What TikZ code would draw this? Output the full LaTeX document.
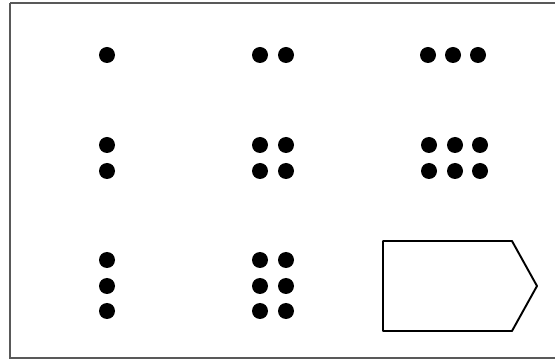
\documentclass[tikz,border=0pt]{standalone}
\usepackage{tikz}
\usetikzlibrary{calc}

\begin{document}
\begin{tikzpicture}[x=0.02cm,y=-0.02cm]
\useasboundingbox (0,0) rectangle (555,361);
\draw[black!65, line width=1.2pt] (10,3) -- (560,3);
\draw[black!65, line width=1.2pt] (10,3) -- (10,358) -- (560,358);

% row 1
\fill (107,55) circle (8);
\foreach \x in {260,286} \fill (\x,55) circle (8);
\foreach \x in {428,453,478} \fill (\x,55) circle (8);

% row 2
\foreach \y in {145,171} \fill (107,\y) circle (8);
\foreach \x in {260,286} \foreach \y in {145,171} \fill (\x,\y) circle (8);
\foreach \x in {429,455,480} \foreach \y in {145,171} \fill (\x,\y) circle (8);

% row 3
\foreach \y in {260,286,311} \fill (107,\y) circle (8);
\foreach \x in {260,286} \foreach \y in {260,286,311} \fill (\x,\y) circle (8);

\draw[line width=1.1pt, line join=round] (383,241) -- (512,241) -- (537,286) -- (512,331) -- (383,331) -- cycle;

\end{tikzpicture}
\end{document}
